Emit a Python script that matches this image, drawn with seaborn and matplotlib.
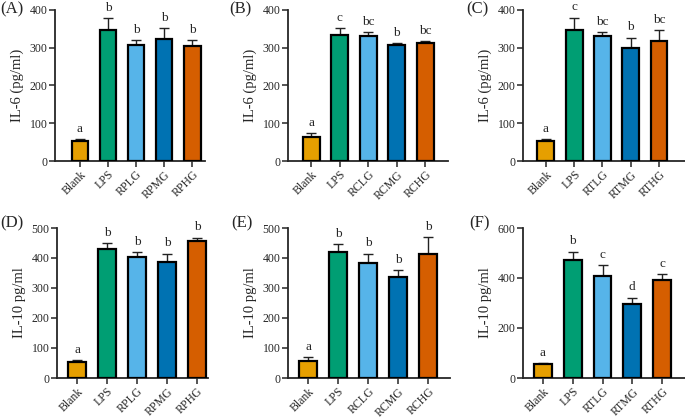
import numpy as np
import pandas as pd
import seaborn as sns
import matplotlib.pyplot as plt

# Data (mean, upper SD) for each panel
groups_a = ['Blank', 'LPS', 'RPLG', 'RPMG', 'RPHG']
groups_b = ['Blank', 'LPS', 'RCLG', 'RCMG', 'RCHG']
groups_c = ['Blank', 'LPS', 'RTLG', 'RTMG', 'RTHG']

il6_a = [52, 348, 307, 323, 305]
il6_a_sd = [5, 31, 13, 28, 15]
il6_a_sig = ['a', 'b', 'b', 'b', 'b']

il6_b = [63, 333, 330, 307, 312]
il6_b_sd = [12, 19, 11, 6, 6]
il6_b_sig = ['a', 'c', 'bc', 'b', 'bc']

il6_c = [52, 348, 330, 300, 318]
il6_c_sd = [5, 32, 12, 27, 29]
il6_c_sig = ['a', 'c', 'bc', 'b', 'bc']

il10_d = [55, 430, 405, 386, 457]
il10_d_sd = [6, 21, 15, 29, 11]
il10_d_sig = ['a', 'b', 'b', 'b', 'b']

il10_e = [57, 421, 385, 337, 415]
il10_e_sd = [14, 25, 30, 22, 55]
il10_e_sig = ['a', 'b', 'b', 'b', 'b']

il10_f = [55, 472, 410, 295, 394]
il10_f_sd = [5, 34, 41, 27, 21]
il10_f_sig = ['a', 'b', 'c', 'd', 'c']

colors = ['#E69F00', '#009E73', '#56B4E9', '#0072B2', '#D55E00']

sns.set_style('ticks')
plt.rcParams['font.family'] = ['Liberation Serif', 'DejaVu Serif']

W, H = 685, 419
fig = plt.figure(figsize=(6.85, 4.19), dpi=100)

# (label, groups, values, sd, letters, ylabel, ymax, ystep, left px, right px, top px, bottom px, xlim, label pos)
panels = [
    ('(A)', groups_a, il6_a, il6_a_sd, il6_a_sig, 'IL-6 (pg/ml)', 400, 100, 55, 205, 10, 161, (-0.89, 4.46), (12, 9)),
    ('(B)', groups_b, il6_b, il6_b_sd, il6_b_sig, 'IL-6 (pg/ml)', 400, 100, 288, 448, 10, 161, (-0.81, 4.8), (240, 9)),
    ('(C)', groups_c, il6_c, il6_c_sd, il6_c_sig, 'IL-6 (pg/ml)', 400, 100, 523, 685, 10, 161, (-0.81, 4.92), (477, 9)),
    ('(D)', groups_a, il10_d, il10_d_sd, il10_d_sig, 'IL-10 pg/ml', 500, 100, 57, 208, 228, 378, (-0.67, 4.37), (12, 223)),
    ('(E)', groups_b, il10_e, il10_e_sd, il10_e_sig, 'IL-10 pg/ml', 500, 100, 288, 450, 228, 378, (-0.67, 4.73), (242, 223)),
    ('(F)', groups_c, il10_f, il10_f_sd, il10_f_sig, 'IL-10 pg/ml', 600, 200, 523, 685, 228, 378, (-0.67, 4.77), (479, 223)),
]

for (lab, groups, vals, sd, sig, ylab, ymax, ystep,
     l, r, t, b, xlim, labpos) in panels:
    ax = fig.add_axes([l / W, 1 - b / H, (r - l) / W, (b - t) / H])
    df = pd.DataFrame({'group': groups, 'value': vals})
    sns.barplot(data=df, x='group', y='value', hue='group', palette=colors,
                legend=False, width=0.6, edgecolor='black', linewidth=1.6,
                saturation=1, ax=ax, zorder=3)
    x = np.arange(len(groups))
    ax.errorbar(x, vals, yerr=[np.zeros(len(sd)), sd], fmt='none',
                ecolor='#222222', elinewidth=1.0, capsize=3.3, capthick=1.0,
                zorder=2)
    for xi, v, e, s in zip(x, vals, sd, sig):
        ax.annotate(s, (xi, v + e), xytext=(0, 3), textcoords='offset points',
                    ha='center', va='bottom', fontsize=9.5)
    ax.set_xlim(*xlim)
    ax.set_ylim(0, ymax)
    ax.set_yticks(np.arange(0, ymax + 1, ystep))
    ax.set_xlabel('')
    ax.set_ylabel(ylab, fontsize=10.5, labelpad=4)
    ax.tick_params(axis='y', labelsize=8.5, width=1.1, length=4, pad=1.5)
    ax.tick_params(axis='x', labelsize=8.5, width=1.1, length=4, pad=1.5)
    plt.setp(ax.get_xticklabels(), rotation=45, ha='right',
             rotation_mode='anchor')
    sns.despine(ax=ax)
    for sp in ['left', 'bottom']:
        ax.spines[sp].set_linewidth(1.3)
    fig.text(labpos[0] / W, 1 - labpos[1] / H, lab, fontsize=12,
             ha='center', va='center')

fig.savefig('out.png', dpi=100)
